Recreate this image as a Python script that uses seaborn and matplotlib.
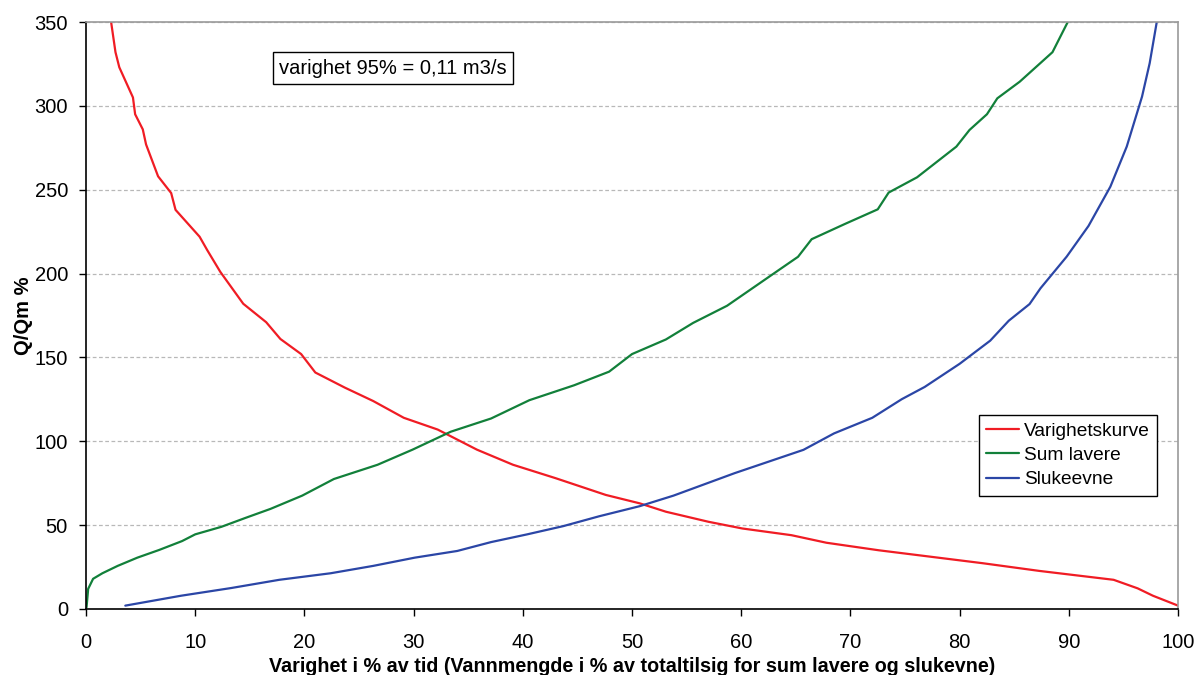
import matplotlib
matplotlib.use("Agg")
import matplotlib.pyplot as plt
import seaborn as sns
import pandas as pd

# Varighetskurve (duration curve), Q/Qm % vs % of time
vk_x = [2.3, 2.7, 3.05, 4.3, 4.5, 5.2, 5.5, 6.6, 7.8, 8.2, 10.4, 11.1, 12.3, 14.4,
        16.5, 17.8, 19.7, 21.0, 23.7, 26.3, 29.1, 32.2, 35.8, 39.1, 43.0, 47.6,
        50.7, 53.1, 57.0, 60.1, 64.6, 67.8, 72.6, 76.8, 82.1, 87.3, 94.1, 96.3,
        97.7, 100.0]
vk_y = [350, 332, 323, 305, 295, 286, 277, 258, 248, 238, 222, 214, 201, 182,
        171, 161, 152, 141, 132, 124, 114, 107, 95, 86, 78, 68,
        63, 58, 52, 48, 44, 39.5, 35, 31.6, 27.3, 22.7, 17.4, 12.3,
        7.9, 2]

# Sum lavere
sl_x = [0.05, 0.2, 0.65, 1.5, 2.9, 4.7, 6.7, 8.8, 10.0, 12.4, 14.6, 16.9, 19.8,
        22.7, 26.7, 29.9, 33.4, 37.1, 40.6, 44.7, 47.9, 50.0, 53.1, 55.6, 58.7,
        63.55, 65.2, 66.45, 69.5, 72.5, 73.5, 76.1, 79.7, 80.9, 82.5, 83.45,
        85.5, 88.5, 89.9]
sl_y = [1, 12, 18, 21.3, 25.7, 30.6, 35.2, 40.5, 44.5, 49, 54.3, 59.7, 67.6,
        77.5, 86, 95, 105.7, 113.6, 124.5, 133.4, 141.5, 152, 160.7, 170.6, 180.8,
        202.6, 210, 220.5, 229.6, 238.3, 248.3, 257.4, 275.7, 285.6, 295, 304.5,
        314.4, 332, 350]

# Slukeevne
se_x = [3.6, 8.7, 13.3, 17.7, 22.4, 26.3, 30.1, 34.0, 37.1, 40.4, 43.7, 47.0,
        50.7, 53.8, 59.4, 65.7, 68.5, 72.0, 74.7, 76.8, 80.0, 82.8, 84.5, 86.4,
        87.4, 89.8, 91.8, 93.8, 95.3, 96.7, 97.4, 98.05]
se_y = [2, 7.9, 12.5, 17.4, 21.3, 25.7, 30.6, 34.6, 39.9, 44.5, 49.4, 55.3,
        61.3, 67.6, 81, 94.9, 104.7, 114, 125.1, 132.4, 146.2, 160, 171.9, 181.8,
        191.2, 210.1, 228.4, 251.8, 275.7, 305.5, 325.4, 350]

series_names = ["Varighetskurve", "Sum lavere", "Slukeevne"]
series_colors = ["#f01c24", "#12803a", "#2b46a6"]
x_ticks = list(range(0, 101, 10))
y_ticks = list(range(0, 351, 50))
x_label = "Varighet i % av tid (Vannmengde i % av totaltilsig for sum lavere og slukevne)"
y_label = "Q/Qm %"
note_text = "varighet 95% = 0,11 m3/s"

frames = []
for name, xs, ys in zip(series_names, [vk_x, sl_x, se_x], [vk_y, sl_y, se_y]):
    frames.append(pd.DataFrame({"x": xs, "y": ys, "serie": name}))
df = pd.concat(frames, ignore_index=True)

sns.set_theme(style="white")
plt.rcParams["font.family"] = ["Liberation Sans", "DejaVu Sans"]
plt.rcParams["text.color"] = "black"
plt.rcParams["axes.labelcolor"] = "black"
plt.rcParams["xtick.color"] = "black"
plt.rcParams["ytick.color"] = "black"

fig = plt.figure(figsize=(11.96, 6.75), dpi=100)
ax = fig.add_axes([0.0719, 0.0978, 0.9131, 0.8696])

sns.lineplot(data=df, x="x", y="y", hue="serie", hue_order=series_names,
             palette=series_colors, sort=False, estimator=None,
             linewidth=1.6, ax=ax)

ax.set_xlim(0, 100)
ax.set_ylim(0, 350)
ax.set_xticks(x_ticks)
ax.set_yticks(y_ticks)
ax.tick_params(axis="both", which="major", labelsize=14.5, direction="out",
               length=5, width=1, colors="black", bottom=True, left=True)
ax.tick_params(axis="x", pad=12)
ax.tick_params(axis="y", pad=8)
ax.yaxis.grid(True, color="#b8b8b8", linestyle=(0, (3, 2)), linewidth=0.9)
ax.xaxis.grid(False)
ax.set_axisbelow(True)

for side in ["left", "bottom"]:
    ax.spines[side].set_color("black")
    ax.spines[side].set_linewidth(1.2)
for side in ["top", "right"]:
    ax.spines[side].set_color("#9a9a9a")
    ax.spines[side].set_linewidth(1.2)

ax.set_xlabel(x_label, fontsize=14.2, fontweight="bold", labelpad=4)
ax.set_ylabel(y_label, fontsize=14.5, fontweight="bold", labelpad=1)

ax.text(0.177, 0.9216, note_text, transform=ax.transAxes, fontsize=14.5,
        ha="left", va="center",
        bbox=dict(boxstyle="square,pad=0.3", facecolor="white",
                  edgecolor="black", linewidth=1))

leg = ax.legend(loc="lower right", bbox_to_anchor=(0.981, 0.1925), fontsize=13.8,
                frameon=True, fancybox=False, shadow=False, borderpad=0.4,
                handlelength=1.7, handletextpad=0.25, labelspacing=0.35,
                borderaxespad=0, title=None)
leg.get_frame().set_edgecolor("black")
leg.get_frame().set_linewidth(1)
leg.get_frame().set_alpha(1)

fig.savefig("out.png", dpi=100, facecolor="white")
